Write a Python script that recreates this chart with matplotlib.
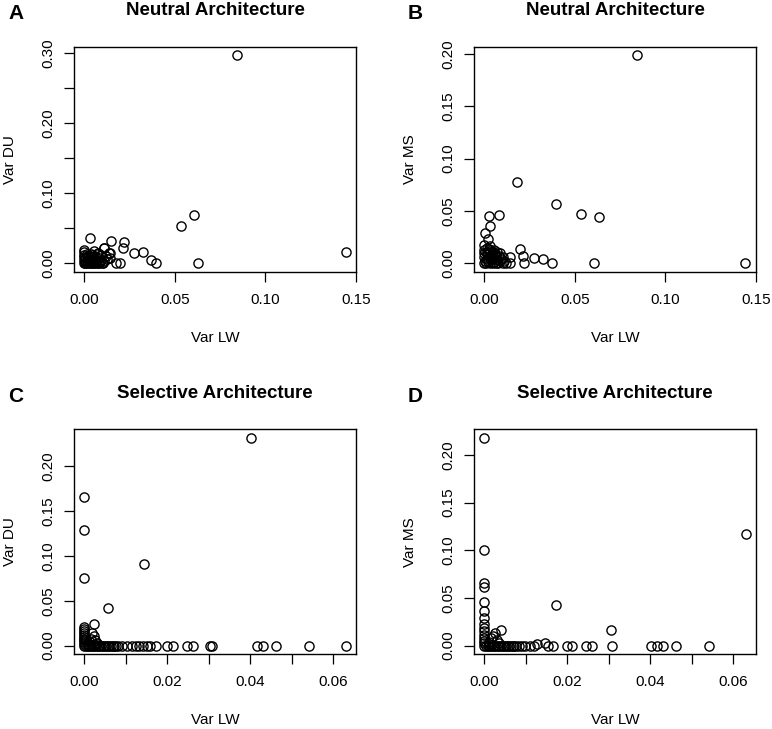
import matplotlib
matplotlib.use("Agg")
import matplotlib.pyplot as plt
import numpy as np

plt.rcParams['font.family'] = ['Liberation Sans', 'DejaVu Sans']

# panel A: neutral, Var LW vs Var DU
lw_a = [0.0842, 0.0608, 0.0535, 0.1443, 0.0630, 0.0395, 0.0369, 0.0323, 0.0274, 0.0221,
        0.0213, 0.0145, 0.0108, 0.0028, 0.0000, 0.0138, 0.0143, 0.0176, 0.0195, 0.0101,
        0.0055, 0.0074, 0.0090, 0.0120, 0.0106, 0.0139,
        0.0000, 0.0005, 0.0010, 0.0015, 0.0020, 0.0025, 0.0030, 0.0035, 0.0040, 0.0045,
        0.0050, 0.0055, 0.0060, 0.0065, 0.0070, 0.0075, 0.0080, 0.0085, 0.0000, 0.0000,
        0.0000, 0.0000, 0.0010, 0.0020, 0.0030, 0.0040, 0.0050, 0.0060, 0.0070, 0.0035,
        0.0015, 0.0090, 0.0095, 0.0110, 0.0125, 0.0045, 0.0065, 0.0025, 0.0010, 0.0080]
du_a = [0.2970, 0.0694, 0.0527, 0.0157, 0.0000, 0.0000, 0.0043, 0.0166, 0.0152, 0.0300,
        0.0218, 0.0313, 0.0218, 0.0356, 0.0190, 0.0150, 0.0070, 0.0000, 0.0000, 0.0000,
        0.0176, 0.0150, 0.0120, 0.0100, 0.0220, 0.0142,
        0.0000, 0.0010, 0.0000, 0.0030, 0.0000, 0.0050, 0.0010, 0.0000, 0.0040, 0.0000,
        0.0020, 0.0000, 0.0060, 0.0000, 0.0030, 0.0000, 0.0080, 0.0020, 0.0050, 0.0090,
        0.0120, 0.0160, 0.0070, 0.0100, 0.0080, 0.0120, 0.0090, 0.0110, 0.0130, 0.0140,
        0.0130, 0.0050, 0.0000, 0.0040, 0.0060, 0.0070, 0.0045, 0.0025, 0.0015, 0.0000]

# panel B: neutral, Var LW vs Var MS
lw_b = [0.0840, 0.0179, 0.0395, 0.0536, 0.0633, 0.1438, 0.0608, 0.0373, 0.0324, 0.0276,
        0.0214, 0.0220, 0.0194, 0.0079, 0.0025, 0.0032, 0.0005, 0.0019, 0.0000, 0.0032,
        0.0143, 0.0143, 0.0120, 0.0101, 0.0084,
        0.0000, 0.0005, 0.0010, 0.0015, 0.0020, 0.0025, 0.0030, 0.0035, 0.0040, 0.0045,
        0.0050, 0.0055, 0.0060, 0.0065, 0.0070, 0.0075, 0.0080, 0.0085, 0.0000, 0.0000,
        0.0000, 0.0010, 0.0020, 0.0030, 0.0040, 0.0050, 0.0060, 0.0070, 0.0015, 0.0025,
        0.0090, 0.0100, 0.0110, 0.0045, 0.0065, 0.0035, 0.0012, 0.0055]
ms_b = [0.1990, 0.0779, 0.0566, 0.0474, 0.0442, 0.0000, 0.0000, 0.0000, 0.0038, 0.0048,
        0.0070, 0.0000, 0.0134, 0.0464, 0.0455, 0.0360, 0.0290, 0.0229, 0.0180, 0.0170,
        0.0064, 0.0000, 0.0000, 0.0000, 0.0102,
        0.0000, 0.0020, 0.0000, 0.0040, 0.0010, 0.0060, 0.0000, 0.0030, 0.0080, 0.0000,
        0.0050, 0.0010, 0.0090, 0.0000, 0.0040, 0.0000, 0.0070, 0.0020, 0.0060, 0.0100,
        0.0130, 0.0110, 0.0090, 0.0120, 0.0100, 0.0110, 0.0080, 0.0110, 0.0150, 0.0140,
        0.0040, 0.0060, 0.0020, 0.0050, 0.0030, 0.0070, 0.0085, 0.0130]

# panel C: selective, Var LW vs Var DU
lw_c = [0.0403, 0.0000, 0.0000, 0.0000, 0.0144, 0.0057, 0.0023, 0.0630, 0.0542, 0.0462,
        0.0431, 0.0417, 0.0304, 0.0308, 0.0261, 0.0247, 0.0213, 0.0200, 0.0173, 0.0158,
        0.0150, 0.0142, 0.0132, 0.0124, 0.0114, 0.0102, 0.0090, 0.0082,
        0.0000, 0.0004, 0.0008, 0.0012, 0.0016, 0.0020, 0.0024, 0.0028, 0.0032, 0.0036,
        0.0040, 0.0044, 0.0048, 0.0052, 0.0056, 0.0060, 0.0064, 0.0068, 0.0072, 0.0076,
        0.0000, 0.0000, 0.0000, 0.0000, 0.0000, 0.0000, 0.0000, 0.0000, 0.0000, 0.0000,
        0.0018, 0.0022, 0.0015, 0.0010, 0.0026, 0.0030, 0.0008, 0.0035]
du_c = [0.2320, 0.1655, 0.1295, 0.0753, 0.0913, 0.0423, 0.0245, 0.0000, 0.0000, 0.0000,
        0.0000, 0.0000, 0.0000, 0.0000, 0.0000, 0.0000, 0.0000, 0.0000, 0.0000, 0.0000,
        0.0000, 0.0000, 0.0000, 0.0000, 0.0000, 0.0000, 0.0000, 0.0000,
        0.0000, 0.0000, 0.0000, 0.0000, 0.0000, 0.0000, 0.0000, 0.0000, 0.0000, 0.0000,
        0.0000, 0.0000, 0.0000, 0.0000, 0.0000, 0.0000, 0.0000, 0.0000, 0.0000, 0.0000,
        0.0210, 0.0185, 0.0160, 0.0140, 0.0120, 0.0100, 0.0080, 0.0060, 0.0040, 0.0020,
        0.0140, 0.0110, 0.0080, 0.0050, 0.0060, 0.0030, 0.0020, 0.0010]

# panel D: selective, Var LW vs Var MS
lw_d = [0.0000, 0.0630, 0.0000, 0.0000, 0.0000, 0.0000, 0.0000, 0.0000, 0.0000, 0.0000,
        0.0000, 0.0000, 0.0173, 0.0305, 0.0040, 0.0025, 0.0145, 0.0127,
        0.0543, 0.0462, 0.0432, 0.0417, 0.0402, 0.0308, 0.0259, 0.0245, 0.0212, 0.0198,
        0.0165, 0.0153, 0.0119, 0.0109, 0.0099, 0.0091, 0.0083,
        0.0004, 0.0008, 0.0012, 0.0016, 0.0020, 0.0024, 0.0028, 0.0032, 0.0036, 0.0040,
        0.0044, 0.0048, 0.0052, 0.0056, 0.0060, 0.0064, 0.0068, 0.0072, 0.0076, 0.0000,
        0.0000, 0.0000, 0.0000, 0.0015, 0.0030, 0.0010, 0.0020, 0.0035, 0.0012]
ms_d = [0.2180, 0.1166, 0.1005, 0.0653, 0.0618, 0.0454, 0.0360, 0.0290, 0.0223, 0.0190,
        0.0150, 0.0115, 0.0422, 0.0160, 0.0168, 0.0133, 0.0028, 0.0017,
        0.0000, 0.0000, 0.0000, 0.0000, 0.0000, 0.0000, 0.0000, 0.0000, 0.0000, 0.0000,
        0.0000, 0.0000, 0.0000, 0.0000, 0.0000, 0.0000, 0.0000,
        0.0000, 0.0000, 0.0000, 0.0000, 0.0000, 0.0000, 0.0000, 0.0000, 0.0000, 0.0000,
        0.0000, 0.0000, 0.0000, 0.0000, 0.0000, 0.0000, 0.0000, 0.0000, 0.0000, 0.0000,
        0.0080, 0.0050, 0.0025, 0.0080, 0.0060, 0.0040, 0.0100, 0.0030, 0.0020]

panels = [
    ("A", "Neutral Architecture", lw_a, du_a, "Var DU"),
    ("B", "Neutral Architecture", lw_b, ms_b, "Var MS"),
    ("C", "Selective Architecture", lw_c, du_c, "Var DU"),
    ("D", "Selective Architecture", lw_d, ms_d, "Var MS"),
]
xticks_top = np.arange(0, 0.151, 0.05)
xticks_bot = np.arange(0, 0.061, 0.01)

W, H = 772, 729
fig = plt.figure(figsize=(W / 100, H / 100), dpi=100)

# box corners in pixels: left, top, right, bottom
boxes = [(74, 46.7, 356, 271.7), (474, 46.7, 756, 271.7),
         (74, 429.3, 356, 654), (474, 429.3, 756, 654)]

for i, (letter, title, x, y, ylab) in enumerate(panels):
    l, t, r, b = boxes[i]
    ax = fig.add_axes([l / W, 1 - b / H, (r - l) / W, (b - t) / H])
    ax.plot(x, y, linestyle="none", marker="o", markersize=6.6,
            markerfacecolor="none", markeredgecolor="black", markeredgewidth=1.0)
    ax.margins(0.04)

    if i < 2:
        ax.set_xticks(xticks_top)
        ax.set_xticklabels(["%.2f" % v for v in xticks_top])
    else:
        ax.set_xticks(xticks_bot)
        ax.set_xticklabels(["%.2f" % v if k % 2 == 0 else "" for k, v in enumerate(xticks_bot)])

    if i == 0:
        yt = np.arange(0, 0.301, 0.05)
        ax.set_yticks(yt)
        ax.set_yticklabels(["%.2f" % v if k % 2 == 0 else "" for k, v in enumerate(yt)])
    else:
        yt = np.arange(0, 0.201, 0.05)
        ax.set_yticks(yt)
        ax.set_yticklabels(["%.2f" % v for v in yt])

    ax.tick_params(length=7.2, width=0.9, labelsize=11, direction="out")
    ax.tick_params(axis="x", pad=8)
    ax.tick_params(axis="y", pad=6)
    for lab in ax.get_yticklabels():
        lab.set_rotation(90)
        lab.set_va("center")
    for s in ax.spines.values():
        s.set_linewidth(1.0)

    ax.set_xlabel("Var LW", fontsize=11)
    ax.set_ylabel(ylab, fontsize=11)
    ax.xaxis.set_label_coords(0.5, -66 / (b - t))
    ax.xaxis.label.set_va("center")
    ax.yaxis.set_label_coords(-64 / (r - l), 0.5)
    ax.yaxis.label.set_va("center")

    fig.text((l + r) / 2 / W, 1 - (t - 36) / H, title, ha="center", va="center",
             fontsize=13.5, fontweight="bold")
    fig.text((l - 66) / W, 1 - (t - 33) / H, letter, ha="left", va="center",
             fontsize=15, fontweight="bold")

fig.savefig("out.png", dpi=100)
